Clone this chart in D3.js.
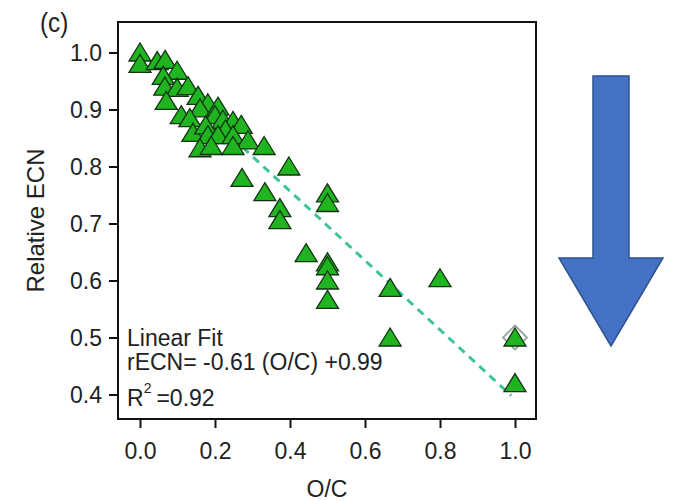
<!DOCTYPE html>
<html>
<head>
<meta charset="utf-8">
<script src="https://cdn.jsdelivr.net/npm/d3@7"></script>
<style>
  html, body { margin: 0; padding: 0; background: #fff; }
  svg text { font-family: "Liberation Sans", Arial, Helvetica, sans-serif; fill: #222; }
</style>
</head>
<body>
<svg id="chart" width="679" height="501"></svg>
<script>
// ---- data ----
const ocValues = [0, 0, 0.046, 0.067, 0.099, 0.062, 0.066, 0.099, 0.128, 0.07, 0.155, 0.181, 0.16, 0.208,
  0.11, 0.133, 0.141, 0.2, 0.221, 0.248, 0.27, 0.175, 0.228, 0.181, 0.208, 0.248, 0.288, 0.16, 0.19, 0.248,
  0.331, 0.397, 0.272, 0.333, 0.373, 0.373, 0.5, 0.5, 0.443, 0.5, 0.5, 0.5, 0.5, 0.667, 0.8, 0.667, 1.0, 1.0];
const ecnValues = [1.0, 0.98, 0.985, 0.987, 0.968, 0.959, 0.94, 0.938, 0.941, 0.915, 0.924, 0.911, 0.902, 0.905,
  0.89, 0.885, 0.859, 0.89, 0.882, 0.88, 0.873, 0.872, 0.865, 0.855, 0.855, 0.855, 0.846, 0.832, 0.836, 0.836,
  0.836, 0.80, 0.78, 0.755, 0.727, 0.706, 0.753, 0.736, 0.648, 0.632, 0.625, 0.60, 0.566, 0.587, 0.604, 0.50, 0.50, 0.42];
const diamondX = [1.0];
const diamondY = [0.50];
const fitX = [0, 0.99];
const fitY = [1.0, 0.398];
const xTicks = [0, 0.2, 0.4, 0.6, 0.8, 1.0];
const yTicks = [0.4, 0.5, 0.6, 0.7, 0.8, 0.9, 1.0];
const panelLabel = "(c)";
const xTitle = "O/C";
const yTitle = "Relative ECN";
const fitLines = ["Linear Fit", "rECN= -0.61 (O/C) +0.99"];
const r2Text = "=0.92";

// ---- layout ----
const plot = { left: 118, right: 536, top: 22, bottom: 419 };
const svg = d3.select("#chart");

const x = d3.scaleLinear().domain([-22 / 375, 1 + 21 / 375]).range([plot.left, plot.right]);
const y = d3.scaleLinear().domain([0.4 - 24.5 / 570, 1 + 30.5 / 570]).range([plot.bottom, plot.top]);

// axes
const xAxis = svg.append("g")
  .attr("transform", `translate(0,${plot.bottom})`)
  .call(d3.axisBottom(x).tickValues(xTicks).tickFormat(d3.format(".1f")).tickSize(9).tickPadding(15));
const yAxis = svg.append("g")
  .attr("transform", `translate(${plot.left},0)`)
  .call(d3.axisLeft(y).tickValues(yTicks).tickFormat(d3.format(".1f")).tickSize(9).tickPadding(7));
[xAxis, yAxis].forEach(g => {
  g.select(".domain").remove();
  g.selectAll(".tick line").attr("stroke", "#111").attr("stroke-width", 2);
  g.selectAll(".tick text").attr("font-size", 23).style("fill", "#222")
    .attr("font-family", '"Liberation Sans", Arial, sans-serif');
});
yAxis.selectAll(".tick text").attr("dy", "0.36em");

// fit line (under points)
const fitData = fitX.map((v, i) => [v, fitY[i]]);
svg.append("path")
  .datum(fitData)
  .attr("d", d3.line().x(d => x(d[0])).y(d => y(d[1])))
  .attr("fill", "none")
  .attr("stroke", "#40c29c")
  .attr("stroke-width", 3)
  .attr("stroke-dasharray", "8,6");

// diamond marker
svg.selectAll(".diamond")
  .data(diamondX.map((v, i) => [v, diamondY[i]]))
  .join("path")
  .attr("transform", d => `translate(${x(d[0])},${y(d[1])})`)
  .attr("d", "M0,-12L12,0L0,12L-12,0Z")
  .attr("fill", "none")
  .attr("stroke", "#8fa898")
  .attr("stroke-width", 1.8);

// triangles
const pts = ocValues.map((v, i) => [v, ecnValues[i]]);
svg.selectAll(".tri")
  .data(pts)
  .join("path")
  .attr("class", "tri")
  .attr("transform", d => `translate(${x(d[0])},${y(d[1])})`)
  .attr("d", "M0,-9.5L11,8.5L-11,8.5Z")
  .attr("fill", "#20b420")
  .attr("stroke", "#123312")
  .attr("stroke-width", 1.3)
  .attr("stroke-linejoin", "miter");

// frame
svg.append("rect")
  .attr("x", plot.left).attr("y", plot.top)
  .attr("width", plot.right - plot.left).attr("height", plot.bottom - plot.top)
  .attr("fill", "none").attr("stroke", "#111").attr("stroke-width", 2);

// titles
svg.append("text").attr("x", (plot.left + plot.right) / 2).attr("y", 497)
  .attr("text-anchor", "middle").attr("font-size", 23).text(xTitle);
svg.append("text")
  .attr("transform", `translate(44,${(plot.top + plot.bottom) / 2}) rotate(-90)`)
  .attr("text-anchor", "middle").attr("font-size", 24).text(yTitle);
svg.append("text").attr("transform", "translate(40,32) scale(0.9,1)")
  .attr("font-size", 27).text(panelLabel);

// annotation
svg.append("text").attr("x", 127).attr("y", 346).attr("font-size", 23).text(fitLines[0]);
svg.append("text").attr("x", 127).attr("y", 370).attr("font-size", 23).text(fitLines[1]);
const r2 = svg.append("text").attr("x", 127).attr("y", 406).attr("font-size", 23);
r2.append("tspan").text("R");
r2.append("tspan").attr("font-size", 14).attr("dy", -13).text("2");
r2.append("tspan").attr("font-size", 23).attr("dy", 13).attr("dx", 5).text(r2Text);

// decorative arrow
const arrow = { shaftL: 593, shaftR: 629, top: 76, headY: 258, headL: 559, headR: 663, tipX: 611, tipY: 346 };
svg.append("path")
  .attr("d", `M${arrow.shaftL},${arrow.top}L${arrow.shaftR},${arrow.top}L${arrow.shaftR},${arrow.headY}` +
    `L${arrow.headR},${arrow.headY}L${arrow.tipX},${arrow.tipY}L${arrow.headL},${arrow.headY}` +
    `L${arrow.shaftL},${arrow.headY}Z`)
  .attr("fill", "#4472c4")
  .attr("stroke", "#2f528f")
  .attr("stroke-width", 1.5);
</script>
</body>
</html>
